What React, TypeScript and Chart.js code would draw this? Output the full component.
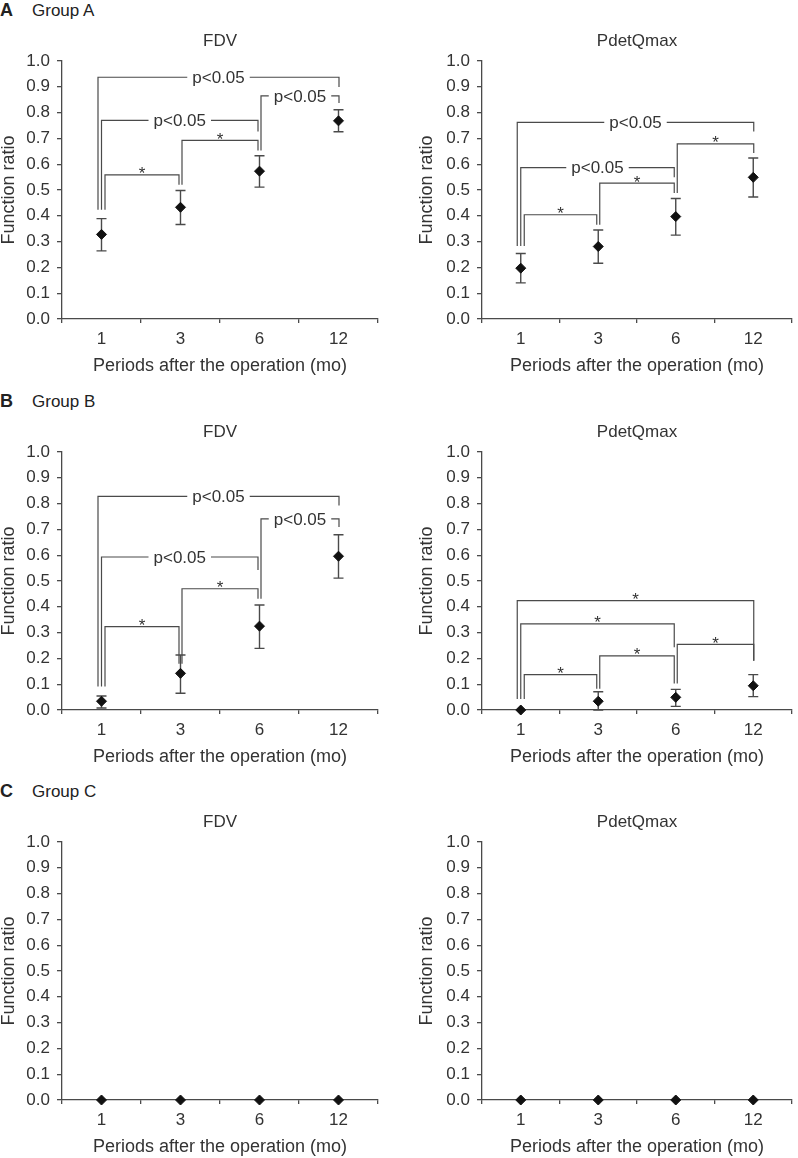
import React, { useEffect, useRef } from 'react';
import { Chart, registerables } from 'chart.js';

Chart.register(...registerables);
Chart.defaults.font.family = "'Liberation Sans', Arial, sans-serif";

// ---------- data ----------
const periods = ['1', '3', '6', '12'];

const groupAFdvMean = [0.328, 0.433, 0.573, 0.768];
const groupAFdvLow = [0.264, 0.366, 0.511, 0.726];
const groupAFdvHigh = [0.389, 0.498, 0.633, 0.811];

const groupAPdetMean = [0.197, 0.281, 0.397, 0.549];
const groupAPdetLow = [0.14, 0.216, 0.325, 0.473];
const groupAPdetHigh = [0.254, 0.345, 0.467, 0.624];

const groupBFdvMean = [0.034, 0.142, 0.325, 0.596];
const groupBFdvLow = [0.008, 0.065, 0.239, 0.511];
const groupBFdvHigh = [0.054, 0.213, 0.407, 0.679];

const groupBPdetMean = [0.0, 0.034, 0.049, 0.094];
const groupBPdetLow = [null, 0.0, 0.014, 0.052];
const groupBPdetHigh = [null, 0.071, 0.08, 0.137];

const groupCFdvMean = [0, 0, 0, 0];
const groupCPdetMean = [0, 0, 0, 0];
const noErr = [null, null, null, null];

// significance brackets: from / to category index, bar level, leg ends, label
type Bracket = { from: number; to: number; level: number; leftEnd: number; rightEnd: number; label: string };

const groupAFdvBrackets: Bracket[] = [
  { from: 0, to: 3, level: 0.937, leftEnd: 0.423, rightEnd: 0.899, label: 'p<0.05' },
  { from: 0, to: 2, level: 0.77, leftEnd: 0.423, rightEnd: 0.727, label: 'p<0.05' },
  { from: 0, to: 1, level: 0.559, leftEnd: 0.423, rightEnd: 0.52, label: '*' },
  { from: 1, to: 2, level: 0.692, leftEnd: 0.52, rightEnd: 0.653, label: '*' },
  { from: 2, to: 3, level: 0.865, leftEnd: 0.653, rightEnd: 0.837, label: 'p<0.05' },
];
const groupAPdetBrackets: Bracket[] = [
  { from: 0, to: 3, level: 0.762, leftEnd: 0.283, rightEnd: 0.727, label: 'p<0.05' },
  { from: 0, to: 2, level: 0.587, leftEnd: 0.283, rightEnd: 0.549, label: 'p<0.05' },
  { from: 0, to: 1, level: 0.404, leftEnd: 0.283, rightEnd: 0.365, label: '*' },
  { from: 1, to: 2, level: 0.527, leftEnd: 0.365, rightEnd: 0.488, label: '*' },
  { from: 2, to: 3, level: 0.679, leftEnd: 0.488, rightEnd: 0.643, label: '*' },
];
const groupBFdvBrackets: Bracket[] = [
  { from: 0, to: 3, level: 0.828, leftEnd: 0.091, rightEnd: 0.793, label: 'p<0.05' },
  { from: 0, to: 2, level: 0.593, leftEnd: 0.091, rightEnd: 0.543, label: 'p<0.05' },
  { from: 0, to: 1, level: 0.323, leftEnd: 0.091, rightEnd: 0.179, label: '*' },
  { from: 1, to: 2, level: 0.47, leftEnd: 0.179, rightEnd: 0.431, label: '*' },
  { from: 2, to: 3, level: 0.741, leftEnd: 0.431, rightEnd: 0.709, label: 'p<0.05' },
];
const groupBPdetBrackets: Bracket[] = [
  { from: 0, to: 3, level: 0.424, leftEnd: 0.043, rightEnd: 0.191, label: '*' },
  { from: 0, to: 2, level: 0.334, leftEnd: 0.043, rightEnd: 0.243, label: '*' },
  { from: 0, to: 1, level: 0.137, leftEnd: 0.043, rightEnd: 0.082, label: '*' },
  { from: 1, to: 2, level: 0.21, leftEnd: 0.082, rightEnd: 0.103, label: '*' },
  { from: 2, to: 3, level: 0.254, leftEnd: 0.103, rightEnd: 0.191, label: '*' },
];

// ---------- styling ----------
const LINE = '#4a4a4a';
const TEXT = '#333333';
const ROW_TOPS = [0, 391, 781];
const CANVAS_H = 376;

type PanelProps = {
  left: number;
  top: number;
  width: number;
  yAxisWidth: number;
  plotWidth: number;
  title: string;
  mean: number[];
  low: (number | null)[];
  high: (number | null)[];
  brackets: Bracket[];
};

function legOffsets(brackets: Bracket[]) {
  const leftOff: number[] = [];
  const rightOff: number[] = [];
  brackets.forEach((b, i) => {
    const endsHere = brackets.some((o) => o.to === b.from);
    if (endsHere) {
      leftOff[i] = 1.5;
    } else {
      const group = brackets
        .map((o, k) => ({ o, k }))
        .filter((e) => e.o.from === b.from)
        .sort((p, q) => q.o.to - q.o.from - (p.o.to - p.o.from));
      const n = group.length;
      const rank = group.findIndex((e) => e.k === i);
      leftOff[i] = (rank - (n - 1) / 2) * 3.5;
    }
    const startsHere = brackets.some((o) => o.from === b.to);
    rightOff[i] = startsHere ? -1.5 : 0.5;
  });
  return { leftOff, rightOff };
}

function Panel(props: PanelProps) {
  const ref = useRef<HTMLCanvasElement>(null);
  useEffect(() => {
    const { width, yAxisWidth, plotWidth, title, mean, low, high, brackets } = props;

    const errorBars = {
      id: 'errorBars',
      beforeDatasetsDraw(chart: any) {
        const { ctx, scales } = chart;
        const xs = scales.x;
        const ys = scales.y;
        ctx.save();
        ctx.strokeStyle = LINE;
        ctx.lineWidth = 1.4;
        for (let i = 0; i < mean.length; i++) {
          const lo = low[i];
          const hi = high[i];
          if (lo == null || hi == null) continue;
          const x = xs.getPixelForValue(i);
          const y1 = ys.getPixelForValue(lo);
          const y2 = ys.getPixelForValue(hi);
          ctx.beginPath();
          ctx.moveTo(x, y1);
          ctx.lineTo(x, y2);
          ctx.moveTo(x - 5, y1);
          ctx.lineTo(x + 5, y1);
          ctx.moveTo(x - 5, y2);
          ctx.lineTo(x + 5, y2);
          ctx.stroke();
        }
        ctx.restore();
      },
    };

    const bracketPlugin = {
      id: 'brackets',
      afterDatasetsDraw(chart: any) {
        const { ctx, scales } = chart;
        const xs = scales.x;
        const ys = scales.y;
        const { leftOff, rightOff } = legOffsets(brackets);
        ctx.save();
        ctx.strokeStyle = LINE;
        ctx.lineWidth = 1.2;
        ctx.fillStyle = TEXT;
        ctx.font = "17px 'Liberation Sans', Arial, sans-serif";
        ctx.textAlign = 'center';
        brackets.forEach((b, i) => {
          const xl = xs.getPixelForValue(b.from) + leftOff[i];
          const xr = xs.getPixelForValue(b.to) + rightOff[i];
          const y = ys.getPixelForValue(b.level);
          const yl = ys.getPixelForValue(b.leftEnd);
          const yr = ys.getPixelForValue(b.rightEnd);
          const cx = (xl + xr) / 2;
          ctx.beginPath();
          ctx.moveTo(xl, yl);
          ctx.lineTo(xl, y);
          if (b.label === '*') {
            ctx.lineTo(xr, y);
          } else {
            const w = ctx.measureText(b.label).width;
            ctx.lineTo(cx - w / 2 - 5, y);
            ctx.moveTo(cx + w / 2 + 5, y);
            ctx.lineTo(xr, y);
          }
          ctx.lineTo(xr, yr);
          ctx.stroke();
          if (b.label === '*') {
            ctx.textBaseline = 'alphabetic';
            ctx.fillText('*', cx, y + 4.5);
          } else {
            ctx.textBaseline = 'middle';
            ctx.fillText(b.label, cx, y + 1);
          }
        });
        ctx.restore();
      },
    };

    const chart = new Chart(ref.current as HTMLCanvasElement, {
      type: 'line',
      data: {
        labels: periods,
        datasets: [
          {
            data: mean,
            showLine: false,
            pointStyle: 'rectRot',
            pointRadius: 5,
            pointHoverRadius: 5,
            pointBackgroundColor: '#111',
            pointBorderColor: '#111',
            pointBorderWidth: 1,
            borderColor: '#111',
            backgroundColor: '#111',
            clip: false,
          } as any,
        ],
      },
      options: {
        animation: false,
        responsive: false,
        events: [],
        layout: { padding: { left: 0, right: width - yAxisWidth - plotWidth, top: 0, bottom: 1 } },
        plugins: {
          legend: { display: false },
          tooltip: { enabled: false },
          title: {
            display: true,
            text: title,
            fullSize: false,
            color: TEXT,
            font: { size: 17, weight: 'normal', lineHeight: 1.2 },
            padding: { top: 30.8, bottom: 9.8 },
          },
        },
        scales: {
          x: {
            type: 'category',
            offset: true,
            grid: {
              offset: true,
              display: true,
              drawOnChartArea: false,
              drawTicks: true,
              tickLength: 4,
              color: LINE,
              lineWidth: 1.3,
            },
            border: { display: true, color: LINE, width: 1.3 },
            ticks: { color: TEXT, font: { size: 17 }, padding: 5.8, maxRotation: 0, autoSkip: false },
            title: {
              display: true,
              text: 'Periods after the operation (mo)',
              color: TEXT,
              font: { size: 18, lineHeight: 1 },
              padding: 0,
            },
            afterFit: (s: any) => {
              s.height = 56;
            },
          },
          y: {
            min: 0,
            max: 1,
            ticks: {
              stepSize: 0.1,
              color: TEXT,
              font: { size: 17 },
              padding: 7,
              callback: (v: any) => Number(v).toFixed(1),
            },
            grid: { drawOnChartArea: false, drawTicks: true, tickLength: 5, color: LINE, lineWidth: 1.3 },
            border: { display: true, color: LINE, width: 1.3 },
            title: {
              display: true,
              text: 'Function ratio',
              color: TEXT,
              font: { size: 18, lineHeight: 1 },
              padding: { top: Math.max(0, yAxisWidth - 64), bottom: 0 },
            },
            afterFit: (s: any) => {
              s.width = yAxisWidth;
            },
          },
        },
      } as any,
      plugins: [errorBars, bracketPlugin],
    });
    return () => chart.destroy();
  }, []);

  return (
    <canvas
      ref={ref}
      width={props.width}
      height={CANVAS_H}
      style={{ position: 'absolute', left: props.left, top: props.top, width: props.width, height: CANVAS_H, display: 'block' }}
    />
  );
}

function GroupLabel({ letter, text, top }: { letter: string; text: string; top: number }) {
  const base: React.CSSProperties = {
    position: 'absolute',
    top: top + 2,
    fontFamily: "'Liberation Sans', Arial, sans-serif",
    lineHeight: '17px',
    color: '#222',
    whiteSpace: 'nowrap',
  };
  return (
    <>
      <div style={{ ...base, left: 0, fontSize: 18, fontWeight: 'bold' }}>{letter}</div>
      <div style={{ ...base, left: 32, fontSize: 17 }}>{text}</div>
    </>
  );
}

export default function App() {
  return (
    <div style={{ position: 'absolute', left: 0, top: 0, width: 798, height: 1158, background: '#fff', overflow: 'hidden' }}>
      <GroupLabel letter="A" text="Group A" top={ROW_TOPS[0]} />
      <GroupLabel letter="B" text="Group B" top={ROW_TOPS[1]} />
      <GroupLabel letter="C" text="Group C" top={ROW_TOPS[2]} />

      <Panel left={0} top={ROW_TOPS[0]} width={400} yAxisWidth={62} plotWidth={316} title="FDV"
        mean={groupAFdvMean} low={groupAFdvLow} high={groupAFdvHigh} brackets={groupAFdvBrackets} />
      <Panel left={400} top={ROW_TOPS[0]} width={398} yAxisWidth={82} plotWidth={315} title="PdetQmax"
        mean={groupAPdetMean} low={groupAPdetLow} high={groupAPdetHigh} brackets={groupAPdetBrackets} />

      <Panel left={0} top={ROW_TOPS[1]} width={400} yAxisWidth={62} plotWidth={316} title="FDV"
        mean={groupBFdvMean} low={groupBFdvLow} high={groupBFdvHigh} brackets={groupBFdvBrackets} />
      <Panel left={400} top={ROW_TOPS[1]} width={398} yAxisWidth={82} plotWidth={315} title="PdetQmax"
        mean={groupBPdetMean} low={groupBPdetLow} high={groupBPdetHigh} brackets={groupBPdetBrackets} />

      <Panel left={0} top={ROW_TOPS[2]} width={400} yAxisWidth={62} plotWidth={316} title="FDV"
        mean={groupCFdvMean} low={noErr} high={noErr} brackets={[]} />
      <Panel left={400} top={ROW_TOPS[2]} width={398} yAxisWidth={82} plotWidth={315} title="PdetQmax"
        mean={groupCPdetMean} low={noErr} high={noErr} brackets={[]} />
    </div>
  );
}
